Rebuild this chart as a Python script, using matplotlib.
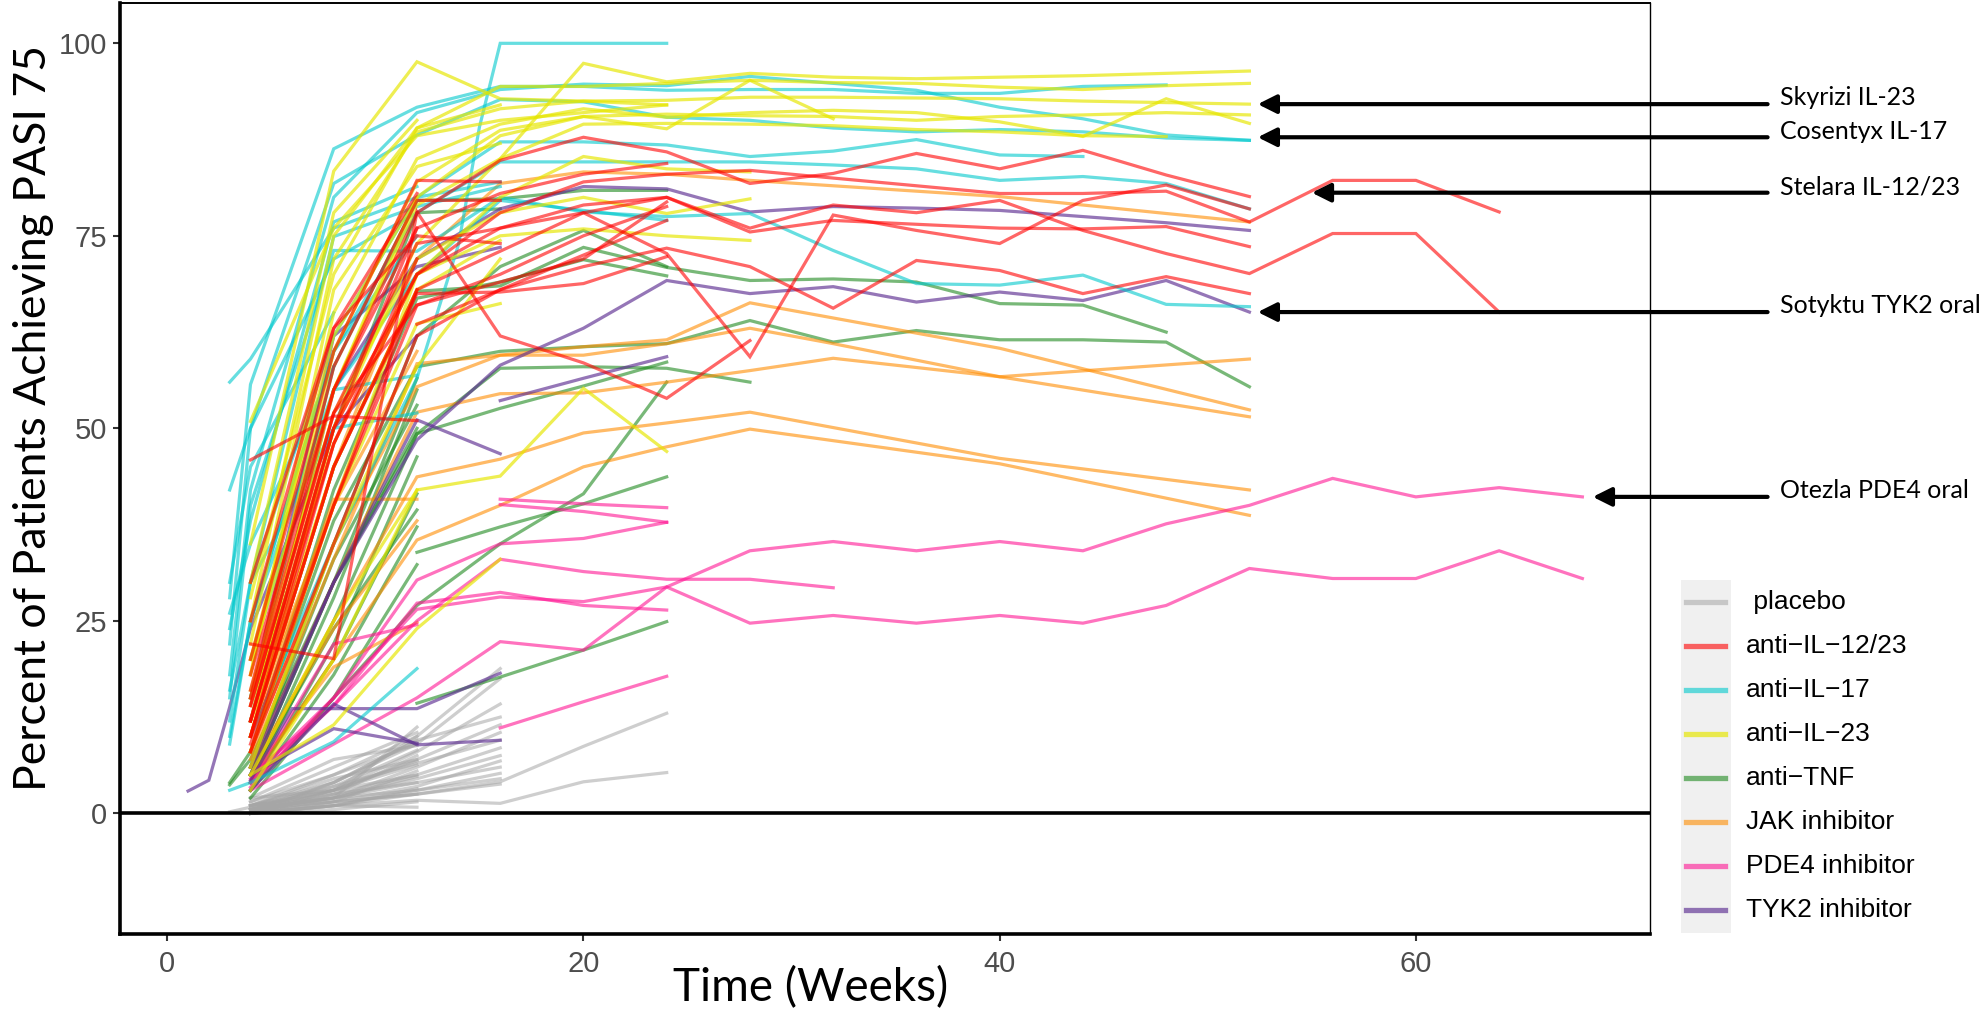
import matplotlib
matplotlib.use('Agg')
import matplotlib.pyplot as plt
from matplotlib.patches import Rectangle
from matplotlib.lines import Line2D

# 시간 축 (주)
w12 = [4, 8, 12]
w16 = [4, 8, 12, 16]
w24 = [4, 8, 12, 16, 20, 24]
w28 = [4, 8, 12, 16, 20, 24, 28]
w32 = [4, 8, 12, 16, 20, 24, 28, 32]
w48 = [4, 8, 12, 16, 20, 24, 28, 32, 36, 40, 44, 48]
w52 = [4, 8, 12, 16, 20, 24, 28, 32, 36, 40, 44, 48, 52]
w64 = w52 + [56, 60, 64]
w68 = w52 + [56, 60, 64, 68]
w52_3 = [3] + w52
wjak = [4, 8, 12, 16, 20, 24, 28, 40, 52]
wjak32 = [4, 8, 12, 16, 20, 24, 28, 32, 40, 52]

# placebo
placebo = [
    (w12, [0.5, 2, 11.2]), (w12, [1, 3, 10]), (w12, [0, 4, 9.5]), (w12, [1.5, 5, 9]),
    (w12, [0.5, 3.5, 8.2]), (w12, [0, 2.5, 7.5]), (w12, [1, 4.5, 7]), (w12, [2, 3, 6.3]),
    (w12, [0, 1.5, 5.5]), (w12, [0.5, 2, 4.8]), (w12, [1, 2.5, 4]), (w12, [0, 1, 3.2]),
    (w12, [0.5, 1.5, 2.5]), (w12, [0, 0.5, 1.5]), (w12, [0, 1, 0.8]), (w12, [1.5, 6, 10.5]),
    (w12, [2, 7, 8.8]), (w12, [0, 3, 6.8]),
    (w16, [1, 5, 10, 18.8]), (w16, [0.5, 4, 9, 17.5]), (w16, [0, 3, 8, 14.2]),
    (w16, [1, 4, 9.5, 12.5]), (w16, [0.5, 3, 7, 11.5]), (w16, [0, 2, 6, 10.5]),
    (w16, [1, 3.5, 6.5, 9.5]), (w16, [0, 2.5, 5, 8.5]), (w16, [0.5, 2, 4.5, 7.5]),
    (w16, [0, 1.5, 3.5, 6.8]), (w16, [1, 2, 4, 6.0]), (w16, [0, 1, 3, 5.2]),
    (w16, [0.5, 2, 3, 4.5]), (w16, [0, 1, 2.5, 3.8]),
    (w24, [0.5, 1.5, 2.5, 4.1, 8.7, 13.0]), (w24, [0, 1, 1.7, 1.3, 4.1, 5.3]),
    ([3, 4, 8, 12], [0.2, 0.8, 3, 5]),
]

# anti-IL-12/23
il1223 = [
    (w52, [15, 55, 78, 84.8, 87.8, 85.9, 81.8, 83.1, 85.7, 83.7, 86.1, 82.9, 80.1]),
    (w64, [12, 50, 70, 78, 82, 83, 83.5, 82.5, 81.5, 80.5, 80.5, 80.8, 76.8, 82.2, 82.2, 78.1]),
    (w64, [10, 45, 68, 73, 78, 80, 76, 79, 78, 79.6, 75.7, 72.7, 70.1, 75.3, 75.3, 65.1]),
    (w52, [14, 52, 74, 76, 79, 80, 75.5, 77, 76.5, 76, 75.9, 76.2, 73.6]),
    (w52, [8, 35, 62, 68, 71, 73.4, 71.0, 65.6, 71.8, 70.5, 67.5, 69.7, 67.5]),
    (w52, [10, 48, 70, 76, 78, 72.7, 59.3, 77.7, 75.7, 74.0, 79.6, 81.6, 78.5]),
    (w28, [22, 20.1, 78.1, 62, 58.5, 53.9, 61.4]),
    (w24, [12, 50, 76, 80.5, 83, 84.4]),
    (w24, [8, 40, 66, 69, 72, 79.4]),
    (w24, [10, 45, 67.5, 67.7, 68.8, 72.3]),
    (w16, [20, 60, 82.2, 82.0]),
    (w16, [16, 58, 79.6, 79.6]),
    (w12, [45.9, 51.6, 51.0]),
    (w12, [18, 55, 76]),
    (w12, [12, 48, 72]),
    (w12, [9, 40, 68]),
    (w16, [25, 63, 75, 74]),
    (w24, [14, 52, 66, 70, 75, 78.8]),
    (w12, [30, 63, 80.5]),
    ([12, 16, 20, 24], [63.5, 68, 72.5, 77]),
]

# anti-IL-17
il17 = [
    ([3] + w48, [28, 55.7, 86.3, 91.7, 94.4, 94.4, 93.9, 94.0, 94.0, 93.5, 93.5, 94.4, 94.6]),
    ([4, 8, 12, 14, 15, 16, 20, 24], [10, 35, 56.5, 73.9, 89.1, 100, 100, 100]),
    (w52_3, [22, 50, 81.8, 88.1, 92.7, 92.4, 90.4, 90.0, 89.0, 88.5, 88.8, 88.5, 87.7, 87.4]),
    (w52_3, [18, 42, 80, 91, 94, 94.7, 94.5, 95.7, 94.8, 93.9, 91.7, 90.2, 88.1, 87.4]),
    ([4, 8, 12, 16, 20, 24, 28, 32, 36, 40, 44], [30, 62, 80, 87.2, 87.2, 86.8, 85.3, 86.0, 87.5, 85.5, 85.3]),
    (w52, [25, 60, 78, 84.6, 84.6, 84.6, 84.6, 84.2, 83.7, 82.2, 82.7, 81.8, 78.5]),
    (w52_3, [15, 40, 73.1, 73, 80, 78.1, 77.5, 77.9, 73.1, 68.8, 68.6, 69.9, 66.1, 65.8]),
    (w24, [20, 55, 70, 79.6, 78.3, 77.0]),
    ([3, 4, 8, 12], [24, 38, 76.8, 81.4]),
    ([3, 4, 8, 12, 16], [16, 30, 74.9, 78.8, 81.4]),
    ([3, 4, 8, 12], [10, 25, 60, 75]),
    ([3, 4, 8, 12], [3, 4, 9.3, 18.8]),
    ([3, 4, 8, 12, 16], [56, 59, 76, 80, 82]),
    ([3, 4, 8, 12], [42, 50, 72, 78]),
    ([3, 4, 8], [30, 45, 65]),
    ([3, 4, 8, 12], [9, 25, 55, 56.9]),
    ([3, 4, 8, 12], [12, 30, 50, 52]),
    ([3, 4, 8], [26, 35, 58]),
]

# anti-IL-23
il23 = [
    (w24, [35, 83.4, 97.6, 92.8, 92.5, 92.0]),
    (w52, [20, 55, 79, 85, 97.4, 95.0, 96.1, 95.6, 95.4, 95.6, 95.8, 96.1, 96.4]),
    (w52, [28, 70, 89, 94.4, 94.4, 94.8, 95.2, 94.9, 94.8, 94.3, 94.0, 94.5, 94.8]),
    (w52, [22, 72, 88.5, 91.5, 92.5, 92.6, 93.0, 93.0, 92.9, 92.8, 92.5, 92.3, 92.1]),
    (w52, [18, 65, 85, 89.5, 91.5, 90.4, 91.0, 91.3, 91.0, 89.8, 87.9, 92.8, 89.6]),
    (w52, [15, 60, 82, 88.7, 90.5, 90.8, 90.6, 90.5, 90.0, 90.5, 90.7, 91.0, 90.7]),
    (w32, [12, 55, 80, 88, 90.5, 88.9, 95.2, 90.2]),
    (w48, [10, 50, 74, 85, 89.5, 89.6, 89.5, 89.3, 88.8, 88.5, 88.0, 87.9]),
    (w28, [14, 48, 70, 80, 85.3, 83.7, 83.3]),
    (w28, [16, 52, 72, 78, 80, 77.9, 79.8]),
    (w28, [8, 40, 70, 75, 75.9, 75, 74.4]),
    (w24, [5, 25, 42, 43.8, 55.2, 47.0]),
    (w16, [5, 11.5, 24, 33]),
    (w16, [8, 40, 63.6, 66.2]),
    (w16, [10, 45, 68, 74.4]),
    (w16, [25, 75, 89, 92]),
    (w12, [30, 78, 90]),
    (w16, [18, 68, 84, 87]),
    (w12, [20, 62, 80]),
    (w12, [12, 45, 68]),
    (w16, [6, 35, 58, 72]),
    (w12, [3, 20, 42]),
    (w24, [50.9, 76, 88, 90, 91, 92]),
]

# anti-TNF
tnf = [
    (w52_3, [4, 8, 38, 58, 60, 60.6, 61.0, 64.0, 61.2, 62.7, 61.5, 61.5, 61.2, 55.4]),
    (w48, [10, 45, 67.8, 68.5, 73.5, 70.9, 69.2, 69.4, 69.0, 66.2, 66.0, 62.5]),
    (w24, [8, 42, 66.9, 69, 71.9, 69.8]),
    (w24, [6, 35, 62, 71, 75.7, 71.0]),
    (w28, [5, 30, 49.3, 57.8, 58.0, 57.8, 56.0]),
    (w24, [4, 25, 49.3, 52.6, 55.5, 58.6]),
    ([12, 16, 20, 24], [33.9, 37.2, 40.2, 43.7]),
    (w24, [3, 15, 27, 35, 41.5, 56.0]),
    ([12, 16, 20, 24], [14.3, 17.7, 21.2, 24.9]),
    (w12, [5, 30, 56.5]), (w12, [4, 28, 55]), (w12, [6, 33, 53]), (w12, [3, 22, 46.3]),
    (w12, [4, 20, 41.5]), (w12, [5, 24, 39.4]), (w12, [3, 18, 37.2]), (w12, [2, 15, 32.3]),
    ([3, 4, 8, 12], [3.7, 7, 30, 50]),
    (w16, [12, 50, 78, 78.5]),
    (w24, [15, 58, 79.6, 79.8, 80.9, 80.9]),
]

# JAK inhibitor
jak = [
    (wjak, [10, 45, 72, 81.8, 83.3, 83, 82.2, 80.1, 76.8]),
    (wjak, [8, 35, 55.4, 59.5, 60.6, 61.5, 66.3, 60.4, 52.4]),
    (wjak32, [7, 33, 58.4, 59.5, 59.5, 61.0, 63.0, 61.0, 56.7, 51.5]),
    (wjak32, [6, 30, 52.1, 54.5, 54.6, 56.0, 57.5, 59.1, 56.7, 59.0]),
    (wjak, [5, 25, 43.7, 46.0, 49.4, 50.7, 52.1, 46.1, 42.0]),
    (wjak, [4, 20, 35.5, 40.0, 45.0, 47.6, 49.9, 45.4, 38.7]),
    (w12, [10, 40.8, 40.8]),
    (w12, [5, 19, 24.8]),
    (w12, [6, 24, 38]),
    (w12, [12, 40, 60]),
    (w12, [15, 50, 70]),
]

# PDE4 inhibitor
pde4 = [
    (w68, [4.5, 15, 26.5, 28.1, 27.5, 29.4, 34.1, 35.3, 34.1, 35.3, 34.1, 37.6, 40.0, 43.5, 41.1, 42.3, 41.1]),
    (w68, [3, 9, 15, 22.3, 21.2, 29.4, 24.7, 25.7, 24.7, 25.7, 24.7, 27.0, 31.8, 30.5, 30.5, 34.1, 30.5]),
    (w24, [4, 14, 27.3, 28.7, 27.0, 26.4]),
    (w32, [5, 14, 25, 33.0, 31.4, 30.4, 30.4, 29.3]),
    ([16, 20, 24], [40.8, 40.2, 39.7]),
    ([16, 20, 24], [40.1, 39.2, 37.8]),
    ([16, 20, 24], [11.1, 14.5, 17.8]),
    (w24, [3.4, 15, 30.3, 35.0, 35.7, 37.8]),
    (w12, [4, 22, 24.5]),
]

# TYK2 inhibitor
tyk2 = [
    (w52, [12, 55, 72, 78.5, 81.4, 81.1, 78.1, 78.8, 78.6, 78.3, 77.5, 76.7, 75.7]),
    (w52, [6, 30, 48.5, 58.2, 63.0, 69.2, 67.5, 68.4, 66.4, 67.7, 66.6, 69.2, 65.1]),
    ([16, 20, 24], [53.6, 56.5, 59.3]),
    (w16, [5, 30, 51.1, 46.7]),
    ([4, 6, 12, 16], [4.3, 13.6, 13.6, 18.2]),
    (w16, [3, 14.2, 8.9, 9.5]),
    (w12, [5, 11.0, 9.1]),
    ([1, 2, 3, 4, 8, 12], [2.9, 4.3, 13.8, 24, 50, 62]),
    (w16, [15, 62, 71, 73.5]),
]

# 그룹: (라벨, 데이터, 색, 투명도)
groups = [
    (' placebo', placebo, '#a6a6a6', 0.55),
    ('anti\u2212IL\u221212/23', il1223, '#ff0000', 0.6),
    ('anti\u2212IL\u221217', il17, '#00c8cc', 0.6),
    ('anti\u2212IL\u221223', il23, '#e6e600', 0.68),
    ('anti\u2212TNF', tnf, '#1f8a1f', 0.6),
    ('JAK inhibitor', jak, '#ff8c00', 0.6),
    ('PDE4 inhibitor', pde4, '#ff1493', 0.6),
    ('TYK2 inhibitor', tyk2, '#5c2d91', 0.65),
]
draw_order = [0, 4, 5, 6, 7, 2, 3, 1]

# 주석 (라벨, 화살표 끝 x, y)
notes = ['Skyrizi IL-23', 'Cosentyx IL-17', 'Stelara IL-12/23', 'Sotyktu TYK2 oral', 'Otezla PDE4 oral']
note_x = [52.4, 52.4, 55.0, 52.4, 68.5]
note_y = [92.1, 87.8, 80.6, 65.1, 41.1]

W, H = 1986, 1016
fig = plt.figure(figsize=(W / 100, H / 100), dpi=100)
ax = fig.add_axes([120 / W, 1 - 933.5 / H, 1530 / W, 931 / H])

for gi in draw_order:
    label, data, color, alpha = groups[gi]
    for weeks, vals in data:
        ax.plot(weeks, vals, color=color, alpha=alpha, lw=2.3, solid_joinstyle='miter')

ax.axhline(0, color='black', lw=2.6, zorder=5)

ax.set_xlim(-2.27, 71.25)
ax.set_ylim(-15.6, 105.3)
ax.set_xticks([0, 20, 40, 60])
ax.set_yticks([0, 25, 50, 75, 100])
ax.tick_params(axis='both', colors='#333333', length=5, width=1.5, labelsize=21,
               labelcolor='#4d4d4d', pad=4)
for lab in ax.get_xticklabels() + ax.get_yticklabels():
    lab.set_family(['Liberation Sans', 'DejaVu Sans'])
ax.tick_params(axis='x', pad=7)

for s in ['left', 'bottom']:
    ax.spines[s].set_linewidth(2.6)
ax.spines['top'].set_linewidth(1.4)
ax.spines['right'].set_linewidth(1.0)

hum = ['Lato', 'DejaVu Sans']
fig.text(34 / W, 1 - 418 / H, 'Percent of Patients Achieving PASI 75', rotation=90,
         ha='center', va='center', fontsize=32, family=hum)
fig.text(811 / W, 1 - 988 / H, 'Time (Weeks)', ha='center', va='center',
         fontsize=33, family=hum)

for txt, nx, ny in zip(notes, note_x, note_y):
    ax.annotate('', xy=(nx, ny), xytext=(76.9, ny), annotation_clip=False,
                arrowprops=dict(arrowstyle='-|>', color='black', lw=3,
                                mutation_scale=28, shrinkA=0, shrinkB=0))
    ax.text(77.5, ny + 0.8, txt, ha='left', va='center', fontsize=18,
            family=hum, clip_on=False)

# 범례
fig.add_artist(Rectangle((1681 / W, 1 - 933 / H), 50 / W, 353 / H,
                         transform=fig.transFigure, facecolor='#f0f0f0', edgecolor='none'))
for i, (label, data, color, alpha) in enumerate(groups):
    yy = 1 - (602 + 44 * i) / H
    fig.add_artist(Line2D([1686 / W, 1725 / W], [yy, yy], transform=fig.transFigure,
                          color=color, alpha=alpha, lw=3.8))
    fig.text(1746 / W, yy, label, ha='left', va='center', fontsize=19,
             family=['Liberation Sans', 'DejaVu Sans'])

fig.savefig('out.png', dpi=100)
